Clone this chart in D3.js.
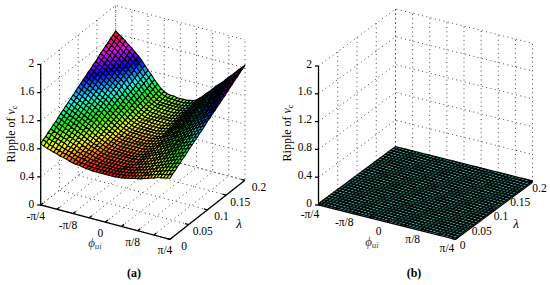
<!DOCTYPE html>
<html lang="en">
<head>
<meta charset="UTF-8">
<title>Ripple of vc</title>
<style>
    html, body { margin: 0; padding: 0; background: #fff; }
    svg { display: block; }
    text { font-family: "Liberation Serif", serif; font-size: 11.5px; fill: #000; }
    .grid { fill: none; stroke: #444; stroke-width: 1; stroke-dasharray: 1 3.4; }
    .axis { fill: none; stroke: #000; stroke-width: 1.3; }
    .facet { stroke: #000; stroke-linejoin: round; }
</style>
<script src="https://d3js.org/d3.v7.min.js"></script>
</head>
<body>
<div id="chart"></div>
<script>
    var phiTicks = [-4, -3, -2, -1, 0, 1, 2, 3, 4];              // units of pi/16
    var phiTickLabels = ["-\u03c0/4", "", "-\u03c0/8", "", "0", "", "\u03c0/8", "", "\u03c0/4"];
    var lambdaTicks = [0, 0.05, 0.1, 0.15, 0.2];
    var lambdaTickLabels = ["0", "0.05", "0.1", "0.15", "0.2"];
    var zTicks = [0, 0.4, 0.8, 1.2, 1.6, 2];
    var zTickLabels = ["0", "0.4", "0.8", "1.2", "1.6", "2"];

    // ripple, in hundredths. one list per phi, lambda going 0 -> 0.2
    var rippleA = [
        [87,90,92,95,97,100,102,105,108,110,113,115,118,120,123,126,128,131,133,136,138,141,143,146,149,151,154,156,159,161,164],
        [85,88,90,93,95,98,100,103,105,108,110,113,115,118,120,123,125,128,130,133,135,138,140,143,145,148,150,153,155,158,160],
        [83,85,88,90,93,95,98,100,103,105,108,110,113,115,118,120,122,125,127,130,132,135,137,140,142,145,147,150,152,155,157],
        [82,84,87,89,91,94,96,99,101,103,106,108,110,113,115,118,120,122,125,127,129,132,134,136,139,141,144,146,148,151,153],
        [80,82,85,87,89,92,94,96,98,101,103,105,108,110,112,115,117,119,121,124,126,128,131,133,135,138,140,142,144,147,149],
        [79,81,83,86,88,90,92,94,97,99,101,103,105,108,110,112,114,116,119,121,123,125,127,130,132,134,136,138,141,143,145],
        [77,79,81,83,86,88,90,92,94,96,98,100,103,105,107,109,111,113,115,118,120,122,124,126,128,130,132,135,137,139,141],
        [76,78,80,82,84,86,88,90,92,94,96,98,100,102,104,107,109,111,113,115,117,119,121,123,125,127,129,131,133,135,137],
        [75,77,79,81,83,85,86,88,90,92,94,96,98,100,102,104,105,107,109,111,113,115,117,119,121,123,124,126,128,130,132],
        [73,75,77,78,80,82,84,85,87,89,91,92,94,96,98,100,101,103,105,107,108,110,112,114,115,117,119,121,122,124,126],
        [72,74,75,77,78,80,82,83,85,86,88,90,91,93,94,96,98,99,101,102,104,106,107,109,110,112,114,115,117,118,120],
        [71,72,74,75,77,78,80,81,83,84,86,87,89,90,92,93,94,96,97,99,100,102,103,105,106,108,109,111,112,114,115],
        [71,72,74,75,76,77,79,80,81,82,84,85,86,87,89,90,91,93,94,95,96,98,99,100,101,103,104,105,106,108,109],
        [70,71,72,73,75,76,77,78,79,80,81,82,84,85,86,87,88,89,90,92,93,94,95,96,97,98,99,101,102,103,104],
        [69,70,71,72,73,74,75,76,77,78,79,80,81,82,83,84,85,86,87,88,89,90,91,92,93,94,95,96,97,98,99],
        [69,70,71,72,73,74,74,75,76,77,78,79,80,81,82,83,83,84,85,86,87,88,89,90,91,92,92,93,94,95,96],
        [68,69,70,71,71,72,73,74,75,76,77,78,78,79,80,81,82,83,84,84,85,86,87,88,89,90,90,91,92,93,94],
        [68,69,70,71,71,72,73,74,75,75,76,77,78,79,80,81,81,82,83,84,85,85,86,87,88,89,90,90,91,92,93],
        [68,69,70,71,71,72,73,74,75,75,76,77,78,79,80,81,81,82,83,84,85,85,86,87,88,89,90,90,91,92,93],
        [68,69,70,70,71,72,73,74,74,75,76,77,78,78,79,80,81,82,82,83,84,85,86,86,87,88,89,90,90,91,92],
        [68,69,70,70,71,72,73,74,74,75,76,77,78,78,79,80,81,82,82,83,84,85,86,86,87,88,89,90,90,91,92],
        [68,69,70,70,71,72,73,74,74,75,76,77,78,78,79,80,81,82,82,83,84,85,86,86,87,88,89,90,90,91,92],
        [68,69,70,70,71,72,73,74,74,75,76,77,78,78,79,80,81,82,82,83,84,85,86,86,87,88,89,90,90,91,92],
        [68,69,70,71,71,72,73,74,75,75,76,77,78,79,80,81,81,82,83,84,85,85,86,87,88,89,90,90,91,92,93],
        [69,70,71,72,72,73,74,75,76,76,77,78,79,80,81,82,82,83,84,85,86,86,87,88,89,90,91,91,92,93,94],
        [69,70,71,72,73,74,74,75,76,77,78,79,80,81,82,83,83,84,85,86,87,88,89,90,91,92,92,93,94,95,96],
        [70,71,72,73,74,75,76,77,78,79,80,81,82,83,84,85,86,87,88,89,90,91,92,93,94,95,96,97,98,99,100],
        [71,72,73,74,75,77,78,79,80,81,82,83,84,85,86,88,89,90,91,92,93,94,95,96,97,99,100,101,102,103,104],
        [72,73,74,76,77,78,79,81,82,83,84,86,87,88,89,91,92,93,94,95,97,98,99,100,102,103,104,105,107,108,109],
        [73,74,76,77,78,80,81,82,84,85,86,88,89,90,92,93,94,96,97,98,100,101,102,104,105,106,108,109,110,112,113],
        [74,75,77,78,80,81,83,84,86,87,89,90,92,93,95,96,97,99,100,102,103,105,106,108,109,111,112,114,115,117,118],
        [75,77,78,80,81,83,85,86,88,89,91,93,94,96,97,99,101,102,104,105,107,109,110,112,113,115,117,118,120,121,123],
        [77,79,80,82,84,85,87,89,90,92,94,95,97,99,100,102,104,105,107,109,110,112,114,115,117,119,120,122,124,125,127],
        [78,80,82,83,85,87,89,90,92,94,96,97,99,101,103,105,106,108,110,112,113,115,117,119,120,122,124,126,127,129,131],
        [80,82,84,86,87,89,91,93,95,97,99,101,102,104,106,108,110,112,114,115,117,119,121,123,125,127,129,130,132,134,136],
        [81,83,85,87,89,91,93,95,97,99,101,103,105,107,109,111,113,115,117,119,121,123,125,127,129,131,133,135,137,139,141],
        [83,85,87,89,91,93,95,97,100,102,104,106,108,110,112,114,116,118,120,122,124,126,128,131,133,135,137,139,141,143,145],
        [84,86,88,91,93,95,97,99,102,104,106,108,110,113,115,117,119,121,124,126,128,130,132,135,137,139,141,143,146,148,150],
        [85,87,90,92,94,97,99,101,104,106,108,111,113,115,118,120,122,125,127,129,132,134,136,139,141,143,146,148,150,153,155],
        [86,88,91,93,96,98,101,103,105,108,110,113,115,118,120,123,125,127,130,132,135,137,140,142,144,147,149,152,154,157,159],
        [87,90,92,95,97,100,102,105,108,110,113,115,118,120,123,126,128,131,133,136,138,141,143,146,149,151,154,156,159,161,164]
    ];
    // panel (b) is flat, same list for every phi
    var rippleBColumn = [2,2,2,2,2,2,2,2,2,2,2,2,2,2,2,2,2,2,2,2,2,2,2,2,2,2,2,2,2,2,2];
    var rippleB = rippleA.map(function() { return rippleBColumn; });

    var nPhi = rippleA.length, nLambda = rippleA[0].length;
    var phiMax = Math.PI / 4;

    var svg = d3.select("#chart").append("svg").attr("width", 550).attr("height", 285);

    var uScale = d3.scaleLinear().domain([-phiMax, phiMax]).range([0, 1]);
    var vScale = d3.scaleLinear().domain([0, 0.2]).range([0, 1]);
    var phiIndex = d3.scaleLinear().domain([0, nPhi - 1]).range([-phiMax, phiMax]);
    var lambdaIndex = d3.scaleLinear().domain([0, nLambda - 1]).range([0, 0.2]);

    var hue = d3.scaleLinear().domain([0.675, 1.64]).range([0, 360]).clamp(true);
    function rainbow(z) { return d3.hsl(hue(z), 1, 0.5).formatHex(); }

    function drawPanel(cfg) {
        var g = svg.append("g");
        var zScale = d3.scaleLinear().domain([0, 2]).range([0, cfg.height]);
        function project(phi, lam, z) {
            var u = uScale(phi), v = vScale(lam);
            return [cfg.ox + cfg.phiVec[0] * u + cfg.lamVec[0] * v,
                    cfg.oy + cfg.phiVec[1] * u + cfg.lamVec[1] * v - zScale(z)];
        }
        var line = d3.line();
        function add(cls, pts) { g.append("path").attr("class", cls).attr("d", line(pts)); }

        // dotted box
        lambdaTicks.forEach(function(l) {
            add("grid", [project(-phiMax, l, 2), project(-phiMax, l, 0), project(phiMax, l, 0)]);
        });
        phiTicks.forEach(function(t) {
            var phi = t * Math.PI / 16;
            add("grid", [project(phi, 0, 0), project(phi, 0.2, 0), project(phi, 0.2, 2)]);
        });
        zTicks.forEach(function(z) {
            add("grid", [project(-phiMax, 0, z), project(-phiMax, 0.2, z), project(phiMax, 0.2, z)]);
        });

        // surface, back to front
        for (var j = nLambda - 2; j >= 0; j--) {
            for (var i = 0; i < nPhi - 1; i++) {
                var a = cfg.data[i][j] / 100, b = cfg.data[i + 1][j] / 100,
                    c = cfg.data[i + 1][j + 1] / 100, d = cfg.data[i][j + 1] / 100;
                var p0 = phiIndex(i), p1 = phiIndex(i + 1), l0 = lambdaIndex(j), l1 = lambdaIndex(j + 1);
                g.append("path")
                    .attr("class", "facet")
                    .attr("d", line([project(p0, l0, a), project(p1, l0, b), project(p1, l1, c), project(p0, l1, d)]) + "Z")
                    .style("stroke-width", cfg.meshWidth)
                    .style("fill", cfg.fill || rainbow((a + b + c + d) / 4));
            }
        }

        // axes
        add("axis", [project(-phiMax, 0, 2), project(-phiMax, 0, 0), project(phiMax, 0, 0), project(phiMax, 0.2, 0)]);
        phiTicks.forEach(function(t, n) {
            var phi = t * Math.PI / 16, p = project(phi, 0, 0);
            add("axis", [p, project(phi, 0.007, 0)]);
            g.append("text").attr("x", p[0] + cfg.phiLabel[0]).attr("y", p[1] + cfg.phiLabel[1])
                .attr("text-anchor", "middle").attr("dominant-baseline", "middle").text(phiTickLabels[n]);
        });
        lambdaTicks.forEach(function(l, n) {
            var p = project(phiMax, l, 0);
            add("axis", [p, project(phiMax - 0.045, l, 0)]);
            g.append("text").attr("x", p[0] + cfg.lamLabel[0]).attr("y", p[1] + cfg.lamLabel[1])
                .attr("text-anchor", "middle").attr("dominant-baseline", "middle").text(lambdaTickLabels[n]);
        });
        zTicks.forEach(function(z, n) {
            var p = project(-phiMax, 0, z);
            add("axis", [p, [p[0] - 3.5, p[1]]]);
            g.append("text").attr("x", p[0] - 6.5).attr("y", p[1] + cfg.zLabelDy).attr("text-anchor", "end")
                .attr("dominant-baseline", "middle").text(zTickLabels[n]);
        });

        // titles
        var zt = g.append("text").attr("transform", "translate(" + cfg.zTitle[0] + "," + cfg.zTitle[1] + ") rotate(-90)")
            .attr("text-anchor", "middle").style("font-size", "12px");
        zt.append("tspan").text("Ripple of ");
        zt.append("tspan").style("font-style", "italic").text("v");
        zt.append("tspan").style("font-size", "8px").attr("dy", 2).text("c");

        var pt = g.append("text").attr("x", cfg.phiTitle[0]).attr("y", cfg.phiTitle[1]).attr("text-anchor", "middle")
            .style("font-style", "italic").style("font-size", "13px").style("fill", "#444");
        pt.append("tspan").text("\u03d5");
        pt.append("tspan").style("font-size", "9px").attr("dy", 2).text("ui");

        g.append("text").attr("x", cfg.lamTitle[0]).attr("y", cfg.lamTitle[1]).attr("text-anchor", "middle")
            .style("font-style", "italic").style("font-size", "13px").text("\u03bb");

        g.append("text").attr("x", cfg.tag[0]).attr("y", cfg.tag[1]).attr("text-anchor", "middle")
            .style("font-weight", "bold").style("font-size", "12px").text(cfg.tagText);
    }

    drawPanel({
        data: rippleA, meshWidth: 1.08, ox: 40.7, oy: 205, phiVec: [129.3, 34.3], lamVec: [75, -59], height: 140.5,
        phiLabel: [-5, 12.5], lamLabel: [14, 8], zLabelDy: 0,
        zTitle: [15, 134], phiTitle: [95, 247], lamTitle: [239, 228], tag: [134, 277], tagText: "(a)"
    });
    drawPanel({
        data: rippleB, fill: "#22b3a3", meshWidth: 1.2, ox: 318.5, oy: 205, phiVec: [137, 34.3], lamVec: [77, -57], height: 139,
        phiLabel: [-8.5, 10], lamLabel: [7, 7], zLabelDy: -1,
        zTitle: [291, 133], phiTitle: [372, 246], lamTitle: [516, 228], tag: [414, 277], tagText: "(b)"
    });
</script>
</body>
</html>
